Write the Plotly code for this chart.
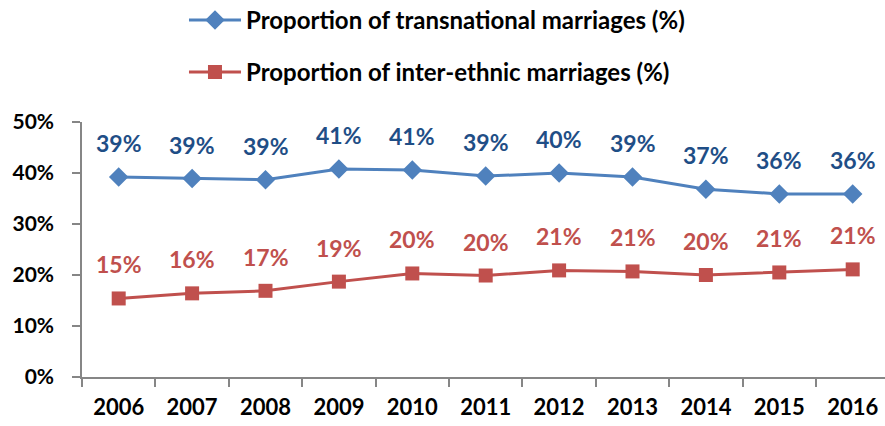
import plotly.graph_objects as go

years = ["2006", "2007", "2008", "2009", "2010", "2011", "2012", "2013", "2014", "2015", "2016"]
transnational = [39.2, 38.9, 38.7, 40.8, 40.6, 39.4, 40.0, 39.2, 36.8, 35.9, 35.9]
transnational_labels = ["39%", "39%", "39%", "41%", "41%", "39%", "40%", "39%", "37%", "36%", "36%"]
interethnic = [15.4, 16.4, 16.9, 18.7, 20.3, 19.9, 20.9, 20.7, 20.0, 20.5, 21.1]
interethnic_labels = ["15%", "16%", "17%", "19%", "20%", "20%", "21%", "21%", "20%", "21%", "21%"]
y_ticks = [0, 10, 20, 30, 40, 50]
y_ticklabels = ["0%", "10%", "20%", "30%", "40%", "50%"]

FONT = "Lato"
BLUE_LINE = "#4F81BD"
BLUE_TEXT = "#1F4E86"
RED = "#C0504D"

fig = go.Figure()
fig.add_trace(go.Scatter(
    x=years, y=transnational, mode="lines+markers",
    name="Proportion of transnational marriages (%)",
    legendgroup="a",
    line=dict(color=BLUE_LINE, width=3),
    marker=dict(symbol="diamond", size=15, color=BLUE_LINE),
))
fig.add_trace(go.Scatter(
    x=years, y=interethnic, mode="lines+markers",
    name="Proportion of inter-ethnic marriages (%)",
    legendgroup="b",
    line=dict(color=RED, width=3),
    marker=dict(symbol="square", size=14, color=RED),
))

annotations = []
for i, (y, t) in enumerate(zip(transnational, transnational_labels)):
    annotations.append(dict(x=i, y=y, xref="x", yref="y", text=t, showarrow=False, yshift=34,
                            font=dict(family=FONT, size=23, color=BLUE_TEXT, weight="bold")))
for i, (y, t) in enumerate(zip(interethnic, interethnic_labels)):
    annotations.append(dict(x=i, y=y, xref="x", yref="y", text=t, showarrow=False, yshift=34,
                            font=dict(family=FONT, size=23, color=RED, weight="bold")))

fig.update_layout(
    width=885, height=426,
    margin=dict(l=82, r=0, t=122, b=49, autoexpand=False),
    plot_bgcolor="white", paper_bgcolor="white",
    font=dict(family=FONT, color="black"),
    annotations=annotations,
    showlegend=True,
    legend=dict(
        x=0.127, y=1.487, xanchor="left", yanchor="top",
        font=dict(family=FONT, size=24, color="black", weight="bold"),
        tracegroupgap=18,
        itemwidth=52,
        bgcolor="rgba(0,0,0,0)",
    ),
    xaxis=dict(
        type="category",
        range=[-0.5, 10.44],
        showgrid=False, zeroline=False,
        showline=True, linecolor="#868686", linewidth=1.5,
        ticks="outside", tickson="boundaries", ticklen=8, tickcolor="#868686", tickwidth=1.5,
        tickfont=dict(family=FONT, size=22, color="black", weight="bold"),
        ticklabelstandoff=10,
        automargin=False,
    ),
    yaxis=dict(
        range=[0, 50],
        tickvals=y_ticks, ticktext=y_ticklabels,
        showgrid=False, zeroline=False,
        showline=True, linecolor="#868686", linewidth=1.5,
        ticks="outside", ticklen=8, tickcolor="#868686", tickwidth=1.5,
        tickfont=dict(family=FONT, size=21, color="black", weight="bold"),
        ticklabelstandoff=14,
        automargin=False,
    ),
)

fig.write_html("out.html", config={"displayModeBar": False},
               post_script="document.body.style.margin='0';")
